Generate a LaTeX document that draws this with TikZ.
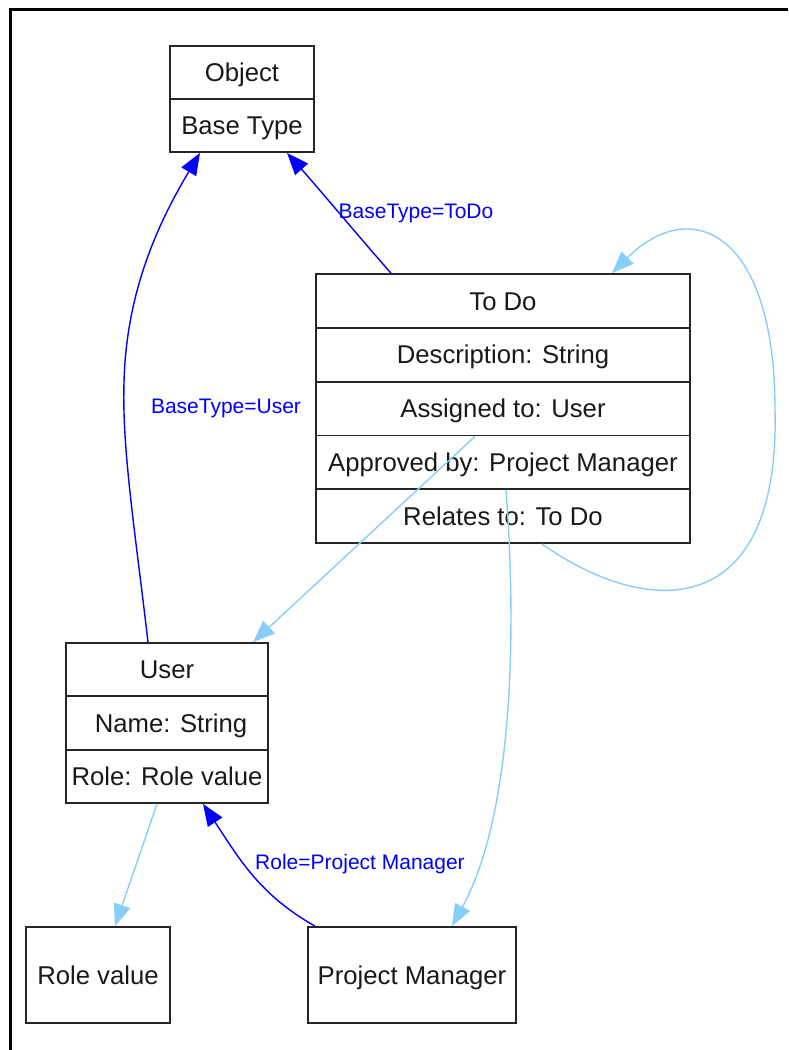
\documentclass[tikz,border=0pt]{standalone}
\usepackage{fontspec}
\setmainfont{Liberation Sans}
\usetikzlibrary{arrows.meta}
\definecolor{lblue}{RGB}{135,206,250}
\definecolor{dblue}{RGB}{0,0,255}
\begin{document}
\begin{tikzpicture}[x=1pt,y=-1pt,
  row/.style={draw=black!85, line width=1.8pt, inner sep=0pt, text height=18pt, text depth=0pt,
              font=\fontsize{25.7}{30}\selectfont, text=black!90},
  dedge/.style={draw=dblue, line width=1.4pt, -{Triangle[length=22pt,width=17pt]}},
  ledge/.style={draw=lblue, line width=1.4pt, -{Triangle[length=22pt,width=17pt]}},
  elabel/.style={text=dblue, font=\fontsize{21}{25}\selectfont, inner sep=0pt}]
\useasboundingbox (0,0) rectangle (788,1050);
% frame
\draw[line width=3pt] (10.5,1050) -- (10.5,9) -- (788,9);
% Object
\node[row, minimum width=144pt, minimum height=53pt] (obj1) at (242,72.5) {Object};
\node[row, minimum width=144pt, minimum height=53pt] (obj2) at (242,125.5) {Base Type};
% To Do
\node[row, minimum width=374pt, minimum height=53.8pt] (todo1) at (503,301) {To Do};
\node[row, minimum width=374pt, minimum height=53.8pt] (todo2) at (503,354.8) {Description: String};
\node[row, minimum width=374pt, minimum height=53.8pt] (todo3) at (503,408.6) {Assigned to: User};
\node[row, minimum width=374pt, minimum height=53.8pt] (todo4) at (503,462.4) {Approved by: Project Manager};
\node[row, minimum width=374pt, minimum height=53.8pt] (todo5) at (503,516.2) {Relates to: To Do};
% User
\node[row, minimum width=202pt, minimum height=53.3pt] (user1) at (167,669.7) {User};
\node[row, minimum width=202pt, minimum height=53.3pt] (user2) at (167,723) {\hspace*{8pt}Name: String};
\node[row, minimum width=202pt, minimum height=53.3pt] (user3) at (167,776.3) {Role: Role value};
% leaves
\node[row, minimum width=144pt, minimum height=96pt] (rolev) at (98,975) {Role value};
\node[row, minimum width=208pt, minimum height=96pt] (pm) at (412,975) {Project Manager};
% edges
\draw[dedge] ([xshift=-19pt]user1.north) .. controls (135,530) and (122,450) .. (124,383)
   .. controls (126,290) and (160,220) .. ([xshift=-42pt]obj2.south);
\node[elabel] (lab1) at (226,408) {BaseType=User};
\draw[dedge] ([xshift=-112pt]todo1.north) .. controls (360,238) and (320,190) .. ([xshift=45pt]obj2.south);
\node[elabel] (lab2) at (416,213) {BaseType=ToDo};
\draw[ledge] ([xshift=39pt]todo5.south) .. controls (650,620) and (780,620) .. (775,410)
   .. controls (775,230) and (690,195) .. ([xshift=109pt]todo1.north);
\draw[ledge] ([xshift=-28pt]todo3.south) -- ([xshift=86pt]user1.north);
\draw[ledge] ([xshift=3pt]todo4.south) .. controls (518,650) and (510,820) .. ([xshift=40pt]pm.north);
\draw[ledge] ([xshift=-10pt]user3.south) -- ([xshift=17pt]rolev.north);
\draw[dedge] ([xshift=-97pt]pm.north) .. controls (260,895) and (240,860) .. ([xshift=36pt]user3.south);
\node[elabel] (lab3) at (360,864) {Role=Project Manager};
\end{tikzpicture}
\end{document}
